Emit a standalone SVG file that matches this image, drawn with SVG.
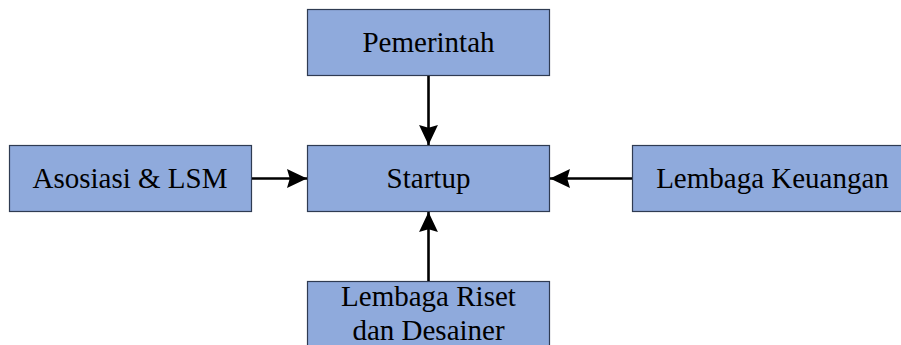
<svg xmlns="http://www.w3.org/2000/svg" width="901" height="345" viewBox="0 0 901 345">
<style>
.box{fill:#8FAADC;stroke:#2F3B52;stroke-width:1.2}
.lbl{font-size:29px;fill:#000;text-anchor:middle}
.conn{stroke:#000;stroke-width:2.6;fill:none}
</style>
<defs>
<marker id="ah" markerUnits="userSpaceOnUse" markerWidth="20" markerHeight="20" viewBox="0 0 18 18" refX="18" refY="9" orient="auto">
<path d="M0,0.5 L18,9 L0,17.5 L2.5,9 Z" fill="#000"/>
</marker>
</defs>
<rect width="901" height="345" fill="#fff"/>
<g font-family="Liberation Serif, Times New Roman, DejaVu Serif, serif">
<g id="pemerintah"><rect class="box" x="307.5" y="9.5" width="242" height="66"/><text class="lbl" x="428.5" y="52">Pemerintah</text></g>
<g id="startup"><rect class="box" x="307.5" y="145.5" width="242" height="66"/><text class="lbl" x="428.5" y="188">Startup</text></g>
<g id="asosiasi"><rect class="box" x="9.5" y="145.5" width="242" height="66"/><text class="lbl" x="130" y="188">Asosiasi &amp; LSM</text></g>
<g id="keuangan"><rect class="box" x="632.5" y="145.5" width="282" height="66"/><text class="lbl" x="772.5" y="188">Lembaga Keuangan</text></g>
<g id="riset"><rect class="box" x="307.5" y="281.5" width="242" height="80"/><text class="lbl" x="428.5" y="306">Lembaga Riset</text><text class="lbl" x="428.5" y="340">dan Desainer</text></g>
</g>
<g id="connectors">
<line class="conn" x1="428.5" y1="76" x2="428.5" y2="145" marker-end="url(#ah)"/>
<line class="conn" x1="252" y1="178.5" x2="307" y2="178.5" marker-end="url(#ah)"/>
<line class="conn" x1="632" y1="178.5" x2="550" y2="178.5" marker-end="url(#ah)"/>
<line class="conn" x1="428.5" y1="281" x2="428.5" y2="212" marker-end="url(#ah)"/>
</g>
</svg>
